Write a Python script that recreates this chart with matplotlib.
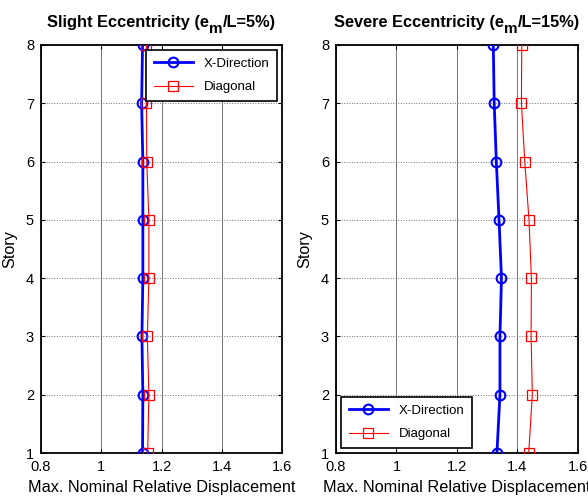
import matplotlib
matplotlib.use("Agg")
import matplotlib.pyplot as plt

plt.rcParams['font.family'] = ['Liberation Sans', 'DejaVu Sans']

stories = [1, 2, 3, 4, 5, 6, 7, 8]
slight_x = [1.137, 1.138, 1.135, 1.138, 1.138, 1.138, 1.134, 1.137]
slight_diag = [1.154, 1.158, 1.153, 1.158, 1.158, 1.151, 1.150, 1.150]
severe_x = [1.332, 1.342, 1.342, 1.347, 1.339, 1.330, 1.323, 1.320]
severe_diag = [1.437, 1.449, 1.445, 1.446, 1.438, 1.424, 1.413, 1.414]

title_parts = [('Slight Eccentricity (e', 'm', '/L=5%)'),
               ('Severe Eccentricity (e', 'm', '/L=15%)')]
xticks = [0.8, 1.0, 1.2, 1.4, 1.6]
xticklabels = ['0.8', '1', '1.2', '1.4', '1.6']
legend_labels = ['X-Direction', 'Diagonal']

fig = plt.figure(figsize=(5.88, 4.97), dpi=100)
ax1 = fig.add_axes([0.0697, 0.0885, 0.41, 0.821])
ax2 = fig.add_axes([0.5714, 0.0885, 0.4116, 0.821])

for ax, xd, dd, loc in [(ax1, slight_x, slight_diag, 'upper right'),
                        (ax2, severe_x, severe_diag, 'lower left')]:
    ax.plot(xd, stories, color='#0000ff', lw=2, marker='o', ms=7, mfc='none', mew=1.5,
            label=legend_labels[0], zorder=3)
    ax.plot(dd, stories, color='#ff0000', lw=0.8, marker='s', ms=7, mfc='none', mew=0.9,
            label=legend_labels[1], zorder=3)
    ax.set_xlim(0.8, 1.6)
    ax.set_ylim(1, 8)
    ax.set_xticks(xticks)
    ax.set_xticklabels(xticklabels)
    ax.set_yticks(stories)
    ax.tick_params(direction='in', top=True, right=True, labelsize=10.5, length=3, pad=5)
    ax.grid(True, axis='x', color='0.45', lw=0.7, ls='-')
    ax.grid(True, axis='y', color='0.45', lw=0.7, ls=':')
    for s in ax.spines.values():
        s.set_linewidth(1.3)
    ax.set_xlabel('Max. Nominal Relative Displacement', fontsize=11.7, labelpad=4)
    ax.set_ylabel('Story', fontsize=11.7, labelpad=6)
    leg = ax.legend(loc=loc, fontsize=9.5, handlelength=3, framealpha=1, fancybox=False,
                    edgecolor='black', borderaxespad=0.35, labelspacing=0.85,
                    borderpad=0.6)
    leg.get_frame().set_linewidth(1.2)

# Titles with a lowered subscript "m"
fig.canvas.draw()
renderer = fig.canvas.get_renderer()
for ax, parts in [(ax1, title_parts[0]), (ax2, title_parts[1])]:
    bbox = ax.get_window_extent(renderer)
    fs_main, fs_sub = 11.8, 11.0
    texts = [fig.text(0, 0, parts[0], fontsize=fs_main, fontweight='bold'),
             fig.text(0, 0, parts[1], fontsize=fs_sub, fontweight='bold'),
             fig.text(0, 0, parts[2], fontsize=fs_main, fontweight='bold')]
    widths = [t.get_window_extent(renderer).width for t in texts]
    total = sum(widths)
    x0 = (bbox.x0 + bbox.x1) / 2 - total / 2
    base_y = fig.bbox.height - 27
    offsets = [0, -6, 0]
    x = x0
    for t, w, dy in zip(texts, widths, offsets):
        t.set_transform(None)
        t.set_position((x, base_y + dy))
        t.set_va('baseline')
        x += w

fig.savefig('out.png', dpi=100)
